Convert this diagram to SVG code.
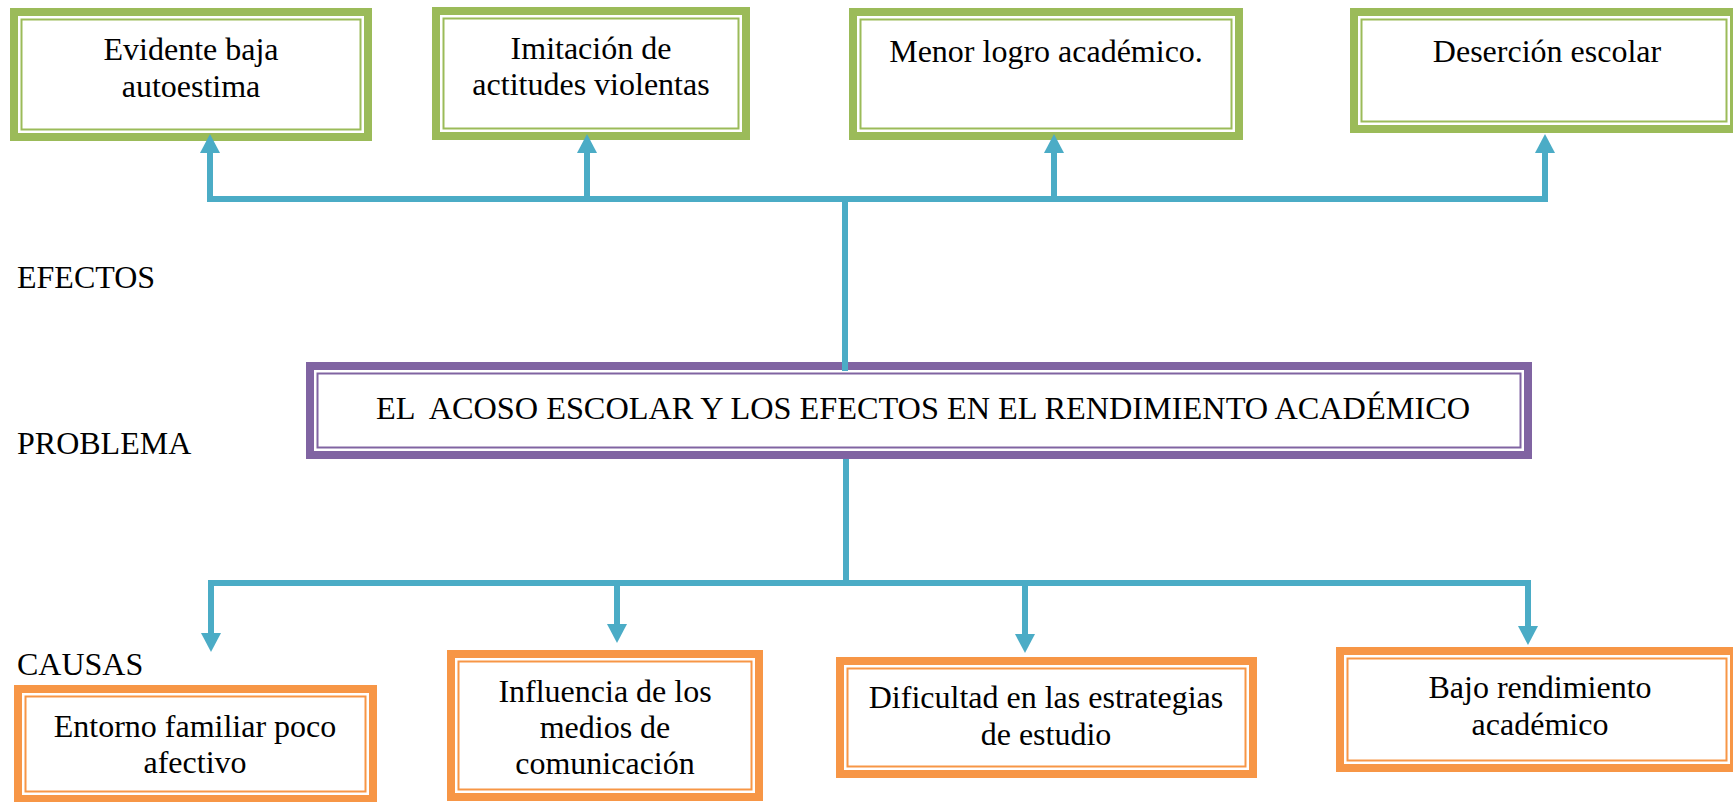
<svg xmlns="http://www.w3.org/2000/svg" width="1733" height="802" viewBox="0 0 1733 802">
<style>
text{font-family:"Liberation Serif","Times New Roman",serif;font-size:32px;fill:#000}
.c{text-anchor:middle}
.bg{fill:#fff}
.gT{fill:none;stroke:#9BBB59;stroke-width:8}
.gt{fill:none;stroke:#9BBB59;stroke-width:2}
.pT{fill:none;stroke:#8064A2;stroke-width:8}
.pt{fill:none;stroke:#8064A2;stroke-width:2}
.oT{fill:none;stroke:#F79646;stroke-width:8}
.ot{fill:none;stroke:#F79646;stroke-width:2}
.ln{fill:none;stroke:#4BACC6;stroke-width:6}
</style>
<defs>
<marker id="ah" markerUnits="userSpaceOnUse" markerWidth="20" markerHeight="20" viewBox="0 0 19 20" refX="0" refY="10" orient="auto-start-reverse">
<path d="M0,0 L19,10 L0,20 Z" fill="#4BACC6"/>
</marker>
</defs>
<rect width="1733" height="802" fill="#fff"/>
<g id="labels">
<text x="17" y="288">EFECTOS</text>
<text x="17" y="454">PROBLEMA</text>
<text x="17" y="675">CAUSAS</text>
</g>
<g id="e1">
<rect class="bg" x="10" y="8" width="362" height="133"/>
<rect class="gT" x="14" y="12" width="354" height="125"/>
<rect class="gt" x="21.5" y="19.5" width="339" height="110"/>
<text class="c" x="191" y="60">Evidente baja</text>
<text class="c" x="191" y="97">autoestima</text>
</g>
<g id="e2">
<rect class="bg" x="432" y="7" width="318" height="133"/>
<rect class="gT" x="436" y="11" width="310" height="125"/>
<rect class="gt" x="443.5" y="18.5" width="295" height="110"/>
<text class="c" x="591" y="59">Imitación de</text>
<text class="c" x="591" y="95">actitudes violentas</text>
</g>
<g id="e3">
<rect class="bg" x="849" y="8" width="394" height="132"/>
<rect class="gT" x="853" y="12" width="386" height="124"/>
<rect class="gt" x="860.5" y="19.5" width="371" height="109"/>
<text class="c" x="1046" y="62">Menor logro académico.</text>
</g>
<g id="e4">
<rect class="bg" x="1350" y="8" width="388" height="125"/>
<rect class="gT" x="1354" y="12" width="380" height="117"/>
<rect class="gt" x="1361.5" y="19.5" width="365" height="102"/>
<text class="c" x="1547" y="62">Deserción escolar</text>
</g>
<g id="problema">
<rect class="bg" x="306" y="362" width="1226" height="97"/>
<rect class="pT" x="310" y="366" width="1218" height="89"/>
<rect class="pt" x="317.5" y="373.5" width="1203" height="74"/>
<text x="376" y="419" font-size="35" textLength="1094" lengthAdjust="spacingAndGlyphs" xml:space="preserve">EL  ACOSO ESCOLAR Y LOS EFECTOS EN EL RENDIMIENTO ACADÉMICO</text>
</g>
<g id="c1">
<rect class="bg" x="14" y="685" width="363" height="118"/>
<rect class="oT" x="18" y="689" width="355" height="110"/>
<rect class="ot" x="25.5" y="696.5" width="340" height="95"/>
<text class="c" x="195" y="737">Entorno familiar poco</text>
<text class="c" x="195" y="773">afectivo</text>
</g>
<g id="c2">
<rect class="bg" x="447" y="650" width="316" height="151"/>
<rect class="oT" x="451" y="654" width="308" height="143"/>
<rect class="ot" x="458.5" y="661.5" width="293" height="128"/>
<text class="c" x="605" y="702">Influencia de los</text>
<text class="c" x="605" y="738">medios de</text>
<text class="c" x="605" y="774">comunicación</text>
</g>
<g id="c3">
<rect class="bg" x="836" y="657" width="421" height="121"/>
<rect class="oT" x="840" y="661" width="413" height="113"/>
<rect class="ot" x="847.5" y="668.5" width="398" height="98"/>
<text class="c" x="1046" y="708">Dificultad en las estrategias</text>
<text class="c" x="1046" y="745">de estudio</text>
</g>
<g id="c4">
<rect class="bg" x="1336" y="647" width="402" height="125"/>
<rect class="oT" x="1340" y="651" width="394" height="117"/>
<rect class="ot" x="1347.5" y="658.5" width="379" height="102"/>
<text class="c" x="1540" y="698">Bajo rendimiento</text>
<text class="c" x="1540" y="735">académico</text>
</g>
<g id="connectors">
<path class="ln" d="M845,371 V199"/>
<path class="ln" d="M210,153 V199 H1545 V153" marker-start="url(#ah)" marker-end="url(#ah)"/>
<path class="ln" d="M587,199 V153" marker-end="url(#ah)"/>
<path class="ln" d="M1054,199 V153" marker-end="url(#ah)"/>
<path class="ln" d="M846,459 V583"/>
<path class="ln" d="M211,633 V583 H1528 V626" marker-start="url(#ah)" marker-end="url(#ah)"/>
<path class="ln" d="M617,583 V624" marker-end="url(#ah)"/>
<path class="ln" d="M1025,583 V634" marker-end="url(#ah)"/>
</g>
</svg>
